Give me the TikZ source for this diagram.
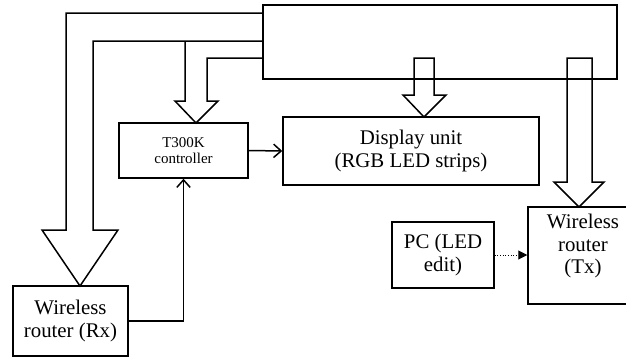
\documentclass[tikz,border=0pt]{standalone}
\usepackage{fontspec}
\setmainfont{Liberation Serif}
\usetikzlibrary{arrows.meta}

\tikzset{
  blk/.style={draw, line width=0.9pt, inner sep=0pt, align=center, font=\fontsize{12.5}{13.5}\selectfont},
  pipe/.style={line width=0.9pt, line join=miter},
  link/.style={line width=0.9pt, -{Straight Barb[length=4.5pt,width=8pt]}},
}

\begin{document}
\begin{tikzpicture}[x=0.6pt,y=-0.6pt]
\useasboundingbox (0,0) rectangle (626,358);
\clip (0,0) rectangle (626,358);

\node[blk, minimum width=212.4pt, minimum height=44.4pt] (top) at (440,42) {};
\node[blk, minimum width=77.4pt, minimum height=33pt, font=\fontsize{9}{10}\selectfont] (t300k) at (183.5,150.5) {T300K\\controller};
\node[blk, minimum width=153.6pt, minimum height=40.8pt] (display) at (411,151) {Display unit\\(RGB LED strips)};
\node[blk, minimum width=69pt, minimum height=42pt] (rx) at (70.5,321) {Wireless\\router (Rx)};
\node[blk, minimum width=61.2pt, minimum height=39.6pt] (pc) at (443,255) {PC (LED\\edit)};
\node[blk, minimum width=66pt, minimum height=58.2pt] (tx) at (583,255.5) {Wireless\\router\\(Tx)\\~};

\coordinate[] (A) at (263,13);
\coordinate[] (B) at (66,13);
\coordinate[] (C) at (66,230);
\coordinate[] (D) at (42,230);
\coordinate[] (E) at (80,286);
\coordinate[] (F) at (118,230);
\coordinate[] (G) at (93,230);
\coordinate[] (H) at (93,41);
\coordinate[] (I) at (263,41);
\coordinate[] (J) at (185,41);
\coordinate[] (K) at (185,101);
\coordinate[] (L) at (175,101);
\coordinate[] (M) at (196,123);
\coordinate[] (N) at (218,101);
\coordinate[] (O) at (207,101);
\coordinate[] (P) at (207,58);
\coordinate[] (Q) at (263,58);
\coordinate[] (R) at (414,95);
\coordinate[] (S) at (414,58);
\coordinate[] (T) at (434,58);
\coordinate[] (U) at (434,95);
\coordinate[] (V) at (446,95);
\coordinate[] (W) at (424,117);
\coordinate[] (Z) at (403,95);
\coordinate[] (A1) at (567,182);
\coordinate[] (B1) at (567,58);
\coordinate[] (C1) at (592,58);
\coordinate[] (D1) at (592,182);
\coordinate[] (E1) at (604,182);
\coordinate[] (F1) at (579,207);
\coordinate[] (G1) at (554,182);

\draw [pipe] (A) -- (B) -- (C) -- (D) -- (E) -- (F) -- (G) -- (H) -- (I);
\draw [pipe] (J) -- (K) -- (L) -- (M) -- (N) -- (O) -- (P) -- (Q);
\draw [pipe] (R) -- (S) -- (T) -- (U) -- (V) -- (W) -- (Z) -- cycle;
\draw [pipe] (A1) -- (B1) -- (C1) -- (D1) -- (E1) -- (F1) -- (G1) -- cycle;

\draw [link] (t300k.east) -- (display.west);
\draw [link] (rx.east) -| (t300k.south);
\draw [line width=0.6pt, densely dotted, -{Triangle[length=5.4pt,width=5.4pt]}] (pc.east) -- (tx.west |- pc.east);
\end{tikzpicture}
\end{document}
